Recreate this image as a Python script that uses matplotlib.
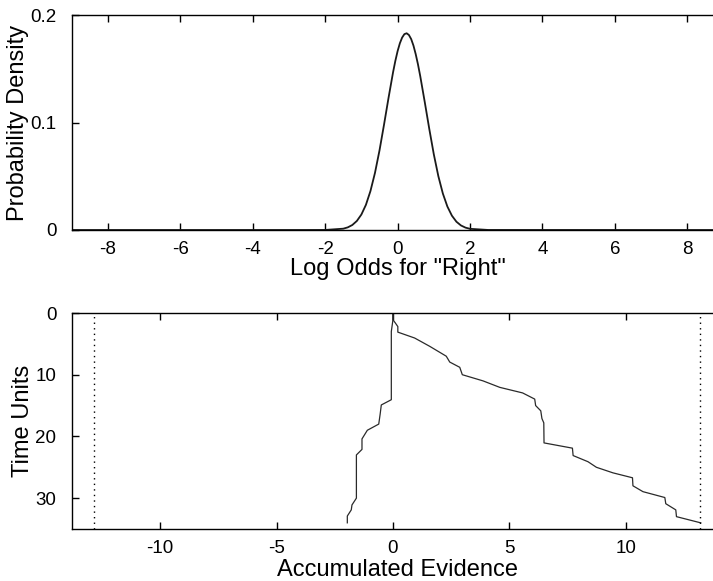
import matplotlib
matplotlib.use("Agg")
import matplotlib.pyplot as plt

plt.rcParams['font.family'] = ['Liberation Sans', 'DejaVu Sans']
plt.rcParams['axes.unicode_minus'] = False

# ---- top panel data: probability density of log odds for "Right" ----
log_odds = [-9.0, -5.0, -2.5, -2.0, -1.5, -1.375, -1.25, -1.125, -1.0, -0.875,
            -0.75, -0.625, -0.5, -0.375, -0.25, -0.125, -0.0625, 0.0, 0.0625,
            0.125, 0.1875, 0.25, 0.3125, 0.375, 0.4375, 0.5, 0.5625, 0.625,
            0.75, 0.875, 1.0, 1.125, 1.25, 1.375, 1.5, 1.625, 1.75, 1.875,
            2.0, 2.5, 7.0, 9.0]
density = [0.0, 0.0, 0.00001, 0.00005, 0.00123, 0.00246, 0.00466, 0.00842,
           0.0144, 0.0234, 0.0362, 0.0531, 0.0740, 0.0980, 0.123, 0.1468,
           0.1573, 0.1664, 0.1737, 0.1790, 0.1822, 0.183, 0.1814, 0.1776,
           0.1716, 0.1636, 0.1541, 0.1432, 0.119, 0.0940, 0.0704, 0.0501,
           0.0339, 0.0218, 0.0133, 0.00768, 0.00422, 0.0022, 0.0011, 0.00004,
           0.0, 0.0]
top_xticks = [-8, -6, -4, -2, 0, 2, 4, 6, 8]
top_yticks = [0, 0.1, 0.2]
top_yticklabels = ['0', '0.1', '0.2']

# ---- bottom panel data: accumulated evidence over time ----
right_t = [0, 1.1, 1.6, 2.2, 3.1, 4.05, 5.4, 7.0, 7.95, 8.8, 10.0, 11.0, 12.05,
           12.95, 13.95, 15.0, 15.85, 17.1, 17.8, 21.05, 21.9, 23.1, 24.1, 25.0,
           25.9, 26.7, 28.0, 28.95, 29.9, 30.9, 31.9, 33.0, 34.0]
right_x = [0, 0, 0.10, 0.21, 0.21, 0.93, 1.58, 2.29, 2.44, 2.87, 2.98, 3.87,
           4.59, 5.57, 6.09, 6.13, 6.35, 6.40, 6.48, 6.49, 7.71, 7.74, 8.38,
           8.74, 9.45, 10.29, 10.31, 10.74, 11.68, 11.72, 12.15, 12.18, 13.22]
left_t = [0, 1.1, 3.0, 14.05, 14.9, 16.4, 18.0, 19.0, 20.4, 22.1, 23.0, 30.0,
          31.1, 31.9, 32.9, 34.0]
left_x = [0, 0, -0.07, -0.07, -0.50, -0.55, -0.61, -1.10, -1.33, -1.33, -1.57,
          -1.57, -1.76, -1.79, -1.96, -1.96]
bounds = [-12.85, 13.2]
bot_xticks = [-10, -5, 0, 5, 10]
bot_yticks = [0, 10, 20, 30]

W, H = 713, 581
fig = plt.figure(figsize=(W / 100, H / 100), dpi=100)

def rect(l, t, r, b):
    return [l / W, 1 - b / H, (r - l) / W, (b - t) / H]

ax1 = fig.add_axes(rect(71.7, 15, 723.5, 230))
ax2 = fig.add_axes(rect(71.7, 313, 723.5, 529))

line_col = '#1a1a1a'
ax1.plot(log_odds, density, color=line_col, lw=1.3)
ax1.set_xlim(-9, 9)
ax1.set_ylim(0, 0.2)
ax1.set_xticks(top_xticks)
ax1.set_yticks(top_yticks)
ax1.set_yticklabels(top_yticklabels)
ax1.set_xlabel('Log Odds for "Right"', fontsize=17, labelpad=0)
ax1.set_ylabel('Probability Density', fontsize=17, labelpad=1)

ax2.plot(right_x, right_t, color='#2a2a2a', lw=0.9)
ax2.plot(left_x, left_t, color='#2a2a2a', lw=0.9)
for b in bounds:
    ax2.axvline(b, color='k', lw=1.0, ls=(0, (1, 3)))
ax2.set_xlim(-13.8, 14.2)
ax2.set_ylim(35, 0)
ax2.set_xticks(bot_xticks)
ax2.set_yticks(bot_yticks)
ax2.set_xlabel('Accumulated Evidence', fontsize=17, labelpad=1)
ax2.set_ylabel('Time Units', fontsize=17, labelpad=1)

for ax in (ax1, ax2):
    ax.tick_params(direction='in', length=5, width=1, top=True, right=True,
                   labelsize=13.5, colors='k')
    ax.tick_params(axis='x', pad=8)
    ax.tick_params(axis='y', pad=11)
    for s in ax.spines.values():
        s.set_linewidth(1.0)

fig.savefig('out.png', dpi=100)
